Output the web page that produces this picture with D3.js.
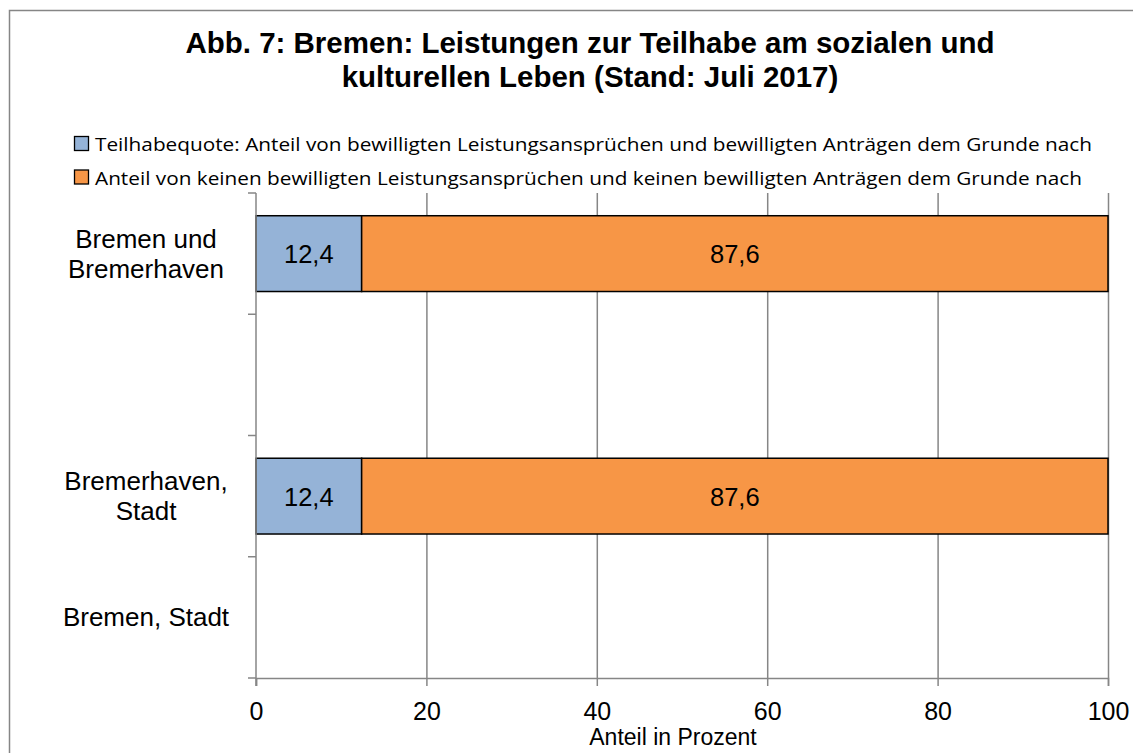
<!DOCTYPE html>
<html><head><meta charset="utf-8">
<script src="https://cdn.jsdelivr.net/npm/d3@7"></script>
<style>html,body{margin:0;padding:0;background:#fff;}svg{display:block;}</style>
</head><body>
<script>
// ---- data ----
const title = ["Abb. 7: Bremen: Leistungen zur Teilhabe am sozialen und", "kulturellen Leben (Stand: Juli 2017)"];
const categories = ["Bremen und\nBremerhaven", " ", "Bremerhaven,\nStadt", "Bremen, Stadt"];
const seriesNames = [
  "Teilhabequote: Anteil von bewilligten Leistungsansprüchen und bewilligten Anträgen dem Grunde nach",
  "Anteil von keinen bewilligten Leistungsansprüchen und keinen bewilligten Anträgen dem Grunde nach"
];
const teilhabe = [12.4, null, 12.4, null];
const keine = [87.6, null, 87.6, null];
const xTicks = [0, 20, 40, 60, 80, 100];
const xAxisTitle = "Anteil in Prozent";
const colors = ["#95B3D7", "#F79646"];

const W = 1133, H = 753;
const svg = d3.select("body").append("svg").attr("width", W).attr("height", H);
const grey = "#868686";
const arial = "'Liberation Sans', Arial, sans-serif";

// frame
svg.append("rect").attr("x", 9.5).attr("y", 10.5).attr("width", 1140).attr("height", 760)
  .attr("fill", "#fff").attr("stroke", grey).attr("stroke-width", 1.5);

// title
svg.append("g").selectAll("text").data(title).join("text")
  .attr("x", 590).attr("y", (d, i) => 53 + i * 34)
  .attr("text-anchor", "middle")
  .attr("font-family", arial)
  .attr("font-weight", "bold").attr("font-size", 29.5).attr("fill", "#000")
  .text(d => d);

// legend
const legTextLen = [997, 987];
const leg = svg.append("g");
seriesNames.forEach((name, i) => {
  const yb = 151 + i * 33.5;
  leg.append("rect").attr("x", 74.5).attr("y", yb - 14.5).attr("width", 14).attr("height", 14)
    .attr("fill", colors[i]).attr("stroke", "#000").attr("stroke-width", 1.3);
  leg.append("text").attr("x", 95).attr("y", yb)
    .attr("font-family", "'Open Sans', 'Noto Sans', sans-serif").attr("font-size", 19)
    .attr("textLength", legTextLen[i]).attr("lengthAdjust", "spacingAndGlyphs")
    .attr("fill", "#000").text(name);
});

// scales
const x0 = 256, x1 = 1108, yTop = 193, yBot = 678;
const x = d3.scaleLinear().domain([0, 100]).range([x0, x1]);
const y = d3.scaleBand().domain(categories).range([yTop, yBot]).padding(0);
const barH = y.bandwidth() * 0.625;

// gridlines
svg.append("g").selectAll("line").data(xTicks.filter(v => v > 0)).join("line")
  .attr("x1", d => x(d) + 0.5).attr("x2", d => x(d) + 0.5)
  .attr("y1", yTop).attr("y2", yBot)
  .attr("stroke", grey).attr("stroke-width", 1.5);

// bars
const bars = svg.append("g");
categories.forEach((c, i) => {
  const vals = [teilhabe[i], keine[i]];
  let start = 0;
  vals.forEach((val, k) => {
    if (val == null) return;
    const yc = y(c) + y.bandwidth() / 2;
    bars.append("rect")
      .attr("x", x(start)).attr("y", yc - barH / 2)
      .attr("width", x(start + val) - x(start)).attr("height", barH)
      .attr("fill", colors[k]).attr("stroke", "#000").attr("stroke-width", 1.5);
    bars.append("text")
      .attr("x", (x(start) + x(start + val)) / 2).attr("y", yc + 9.5)
      .attr("text-anchor", "middle")
      .attr("font-family", arial).attr("font-size", 25.5)
      .attr("fill", "#000")
      .text(d3.format(".1f")(val).replace(".", ","));
    start += val;
  });
});

// x axis
const xAxis = svg.append("g").attr("transform", `translate(0,${yBot})`)
  .call(d3.axisBottom(x).tickValues(xTicks).tickSize(8).tickPadding(16).tickFormat(d3.format("d")));
xAxis.select(".domain").attr("stroke", grey).attr("stroke-width", 1.5);
xAxis.selectAll(".tick line").attr("stroke", grey).attr("stroke-width", 1.5);
xAxis.selectAll("text").attr("font-family", arial).attr("font-size", 25).attr("fill", "#000");

// y axis line + ticks at band boundaries
const yb = svg.append("g");
yb.append("line").attr("x1", x0).attr("x2", x0).attr("y1", yTop).attr("y2", yBot + 8)
  .attr("stroke", grey).attr("stroke-width", 1.5);
const bounds = categories.map(c => y(c)).concat([yBot]);
yb.selectAll("line.t").data(bounds).join("line").attr("class", "t")
  .attr("x1", x0 - 8).attr("x2", x0).attr("y1", d => d).attr("y2", d => d)
  .attr("stroke", grey).attr("stroke-width", 1.5);

// category labels
categories.forEach(c => {
  const lines = c.split("\n");
  const yc = y(c) + y.bandwidth() / 2;
  const lh = 30;
  lines.forEach((ln, j) => {
    yb.append("text").attr("x", 146).attr("y", yc + 9 + (j - (lines.length - 1) / 2) * lh)
      .attr("text-anchor", "middle")
      .attr("font-family", arial).attr("font-size", 26)
      .attr("fill", "#000").text(ln);
  });
});

// x axis title
svg.append("text").attr("x", 673).attr("y", 745).attr("text-anchor", "middle")
  .attr("font-family", arial).attr("font-size", 23)
  .attr("fill", "#000").text(xAxisTitle);
</script>
</body></html>
